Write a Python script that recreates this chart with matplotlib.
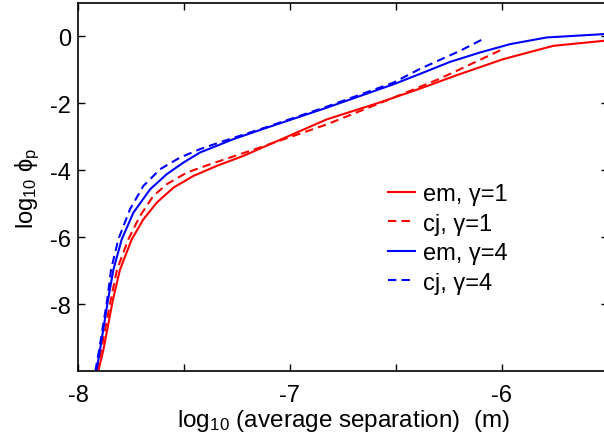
import matplotlib
matplotlib.use('Agg')
import matplotlib.pyplot as plt
import numpy as np

# em, gamma=1 (red solid)
em1_x = [-7.904, -7.88, -7.835, -7.802, -7.747, -7.692, -7.629, -7.55, -7.456, -7.346,
         -7.22, -7.094, -6.827, -6.575, -6.387, -6.21, -5.995, -5.758, -5.52]
em1_y = [-10.0, -9.36, -7.86, -6.97, -6.07, -5.47, -4.97, -4.52, -4.17, -3.87,
         -3.57, -3.22, -2.48, -1.97, -1.56, -1.15, -0.68, -0.28, -0.13]

# cj, gamma=1 (red dashed)
cj1_x = [-7.912, -7.89, -7.845, -7.816, -7.763, -7.708, -7.645, -7.582, -7.487, -7.377,
         -7.236, -7.142, -6.827, -6.512, -6.3, -6.198, -5.99]
cj1_y = [-10.0, -9.36, -7.86, -6.97, -6.07, -5.37, -4.77, -4.42, -4.07, -3.82,
         -3.52, -3.32, -2.63, -1.83, -1.28, -0.98, -0.36]

# em, gamma=4 (blue solid)
em4_x = [-7.913, -7.896, -7.858, -7.833, -7.794, -7.739, -7.66, -7.582, -7.503, -7.425,
         -7.267, -7.12, -6.827, -6.512, -6.387, -6.245, -6.104, -5.962, -5.789, -5.52]
em4_y = [-10.0, -9.36, -7.86, -6.97, -6.07, -5.27, -4.57, -4.12, -3.77, -3.47,
         -3.07, -2.75, -2.13, -1.43, -1.12, -0.76, -0.48, -0.23, -0.03, 0.07]

# cj, gamma=4 (blue dashed)
cj4_x = [-7.918, -7.90, -7.862, -7.844, -7.81, -7.755, -7.692, -7.613, -7.519, -7.425,
         -7.315, -7.12, -6.827, -6.512, -6.387, -6.198, -6.09]
cj4_y = [-10.0, -9.36, -7.86, -6.97, -6.07, -5.17, -4.47, -3.97, -3.62, -3.37,
         -3.13, -2.73, -2.10, -1.38, -0.97, -0.43, -0.08]

labels = ['em, \u03b3=1', 'cj, \u03b3=1', 'em, \u03b3=4', 'cj, \u03b3=4']

xticks = [-8, -7.5, -7, -6.5, -6, -5.5]
xticklabels = ['-8', '', '-7', '', '-6', '']
yticks = [-8, -6, -4, -2, 0]
yticklabels = ['-8', '-6', '-4', '-2', '0']

plt.rcParams['font.family'] = ['Liberation Sans', 'DejaVu Sans']
plt.rcParams['mathtext.fontset'] = 'custom'
plt.rcParams['mathtext.rm'] = 'Liberation Sans'
plt.rcParams['mathtext.it'] = 'Liberation Sans'
plt.rcParams['axes.unicode_minus'] = False

fig = plt.figure(figsize=(6.04, 4.35), dpi=100)
ax = fig.add_axes([78/604, 1-372/435, 530/604, 368/435])

dash = (0, (4, 2.5))
ax.plot(em1_x, em1_y, color='#ff0000', lw=1.5, label=labels[0])
ax.plot(cj1_x, cj1_y, color='#ff0000', lw=1.5, ls=dash, label=labels[1])
ax.plot(em4_x, em4_y, color='#0000ff', lw=1.5, label=labels[2])
ax.plot(cj4_x, cj4_y, color='#0000ff', lw=1.5, ls=dash, label=labels[3])

ax.set_xlim(-8, -5.5)
ax.set_ylim(-10, 1)
ax.set_xticks(xticks)
ax.set_xticklabels(xticklabels)
ax.set_yticks(yticks)
ax.set_yticklabels(yticklabels)
ax.tick_params(direction='in', top=True, right=True, length=5, width=1,
               labelsize=17)
ax.tick_params(axis='x', pad=9)
ax.tick_params(axis='y', pad=5)
for s in ax.spines.values():
    s.set_linewidth(1.2)

ax.set_xlabel(r'log$_{10}$ (average separation)  (m)', fontsize=17.5, labelpad=1)
ax.set_ylabel(r'log$_{10}$ $\mathrm{\phi_p}$', fontsize=17, labelpad=6)

ax.legend(loc='upper left', bbox_to_anchor=(388/604, 1-184/435),
          bbox_transform=fig.transFigure, frameon=False, fontsize=17,
          handlelength=1.15, handletextpad=0.35, labelspacing=0.32,
          borderpad=0, borderaxespad=0)

fig.savefig('out.png', dpi=100)
